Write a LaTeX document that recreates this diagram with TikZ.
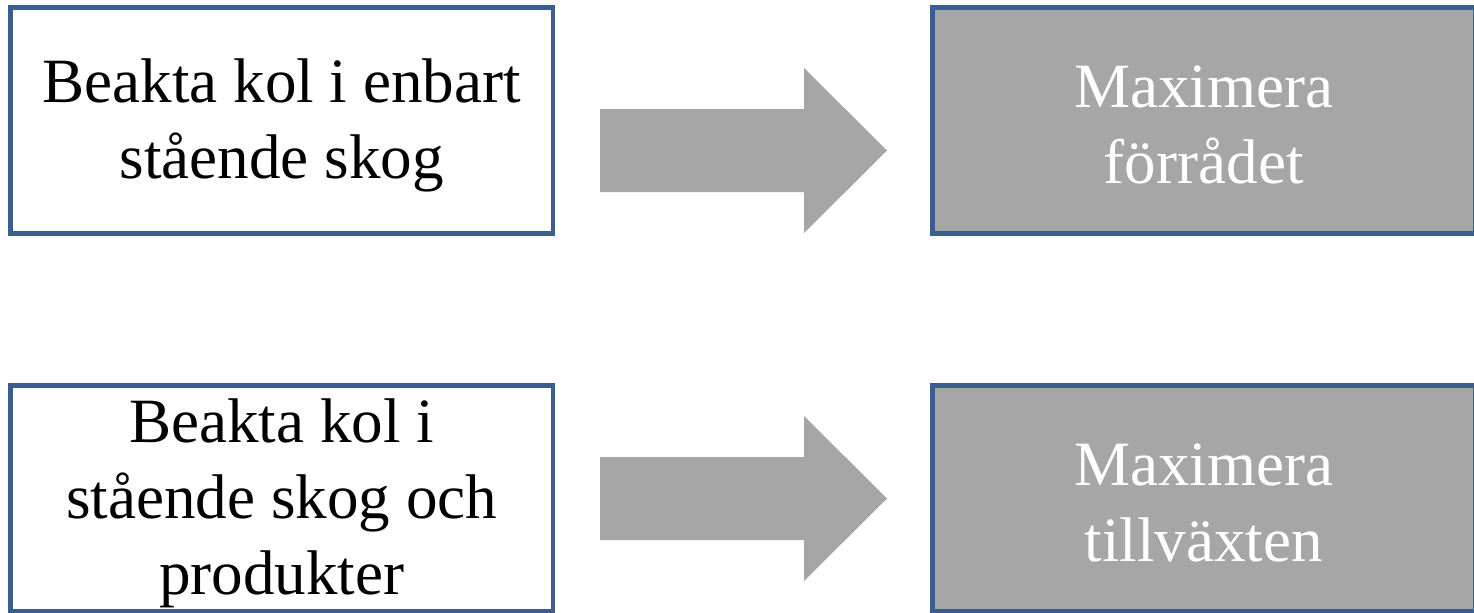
\documentclass[tikz,border=0pt]{standalone}
\usepackage{fontspec}
\setmainfont{Liberation Serif}
\definecolor{kant}{HTML}{3A5F8E}
\definecolor{gra}{HTML}{A6A6A6}
\begin{document}
\begin{tikzpicture}[x=0.02cm, y=-0.02cm,
    ruta/.style={draw=kant, line width=2.6pt, minimum width=10.85cm, minimum height=4.52cm},
    rutatext/.style={align=center, font=\fontsize{35.9}{43.2}\selectfont}]
    \clip (0,0) rectangle (1474,612);
    \fill[white] (0,0) rectangle (1474,612);

    % Rutor
    \node[ruta, fill=white] (lager) at (281.75,120.5) {};
    \node[ruta, fill=gra] (forrad) at (1203.75,120.5) {};
    \node[ruta, fill=white] (produkt) at (281.75,498.5) {};
    \node[ruta, fill=gra] (tillvaxt) at (1203.75,498.5) {};

    % Texter
    \node[rutatext] (lagertext) at ([yshift=-0.1cm]lager.center) {Beakta kol i enbart\\stående skog};
    \node[rutatext, text=white] (forradtext) at ([yshift=-0.09cm]forrad.center) {Maximera\\förrådet};
    \node[rutatext] (produkttext) at ([yshift=-0.1cm]produkt.center) {Beakta kol i\\stående skog och\\produkter};
    \node[rutatext, text=white] (tillvaxttext) at ([yshift=-0.09cm]tillvaxt.center) {Maximera\\tillväxten};

    % Pilar
    \foreach \dy in {0,348}
        \fill[gra] (600,109+\dy) -- (804,109+\dy) -- (804,68+\dy) -- (887,150.5+\dy)
            -- (804,233+\dy) -- (804,192+\dy) -- (600,192+\dy) -- cycle;
\end{tikzpicture}
\end{document}
